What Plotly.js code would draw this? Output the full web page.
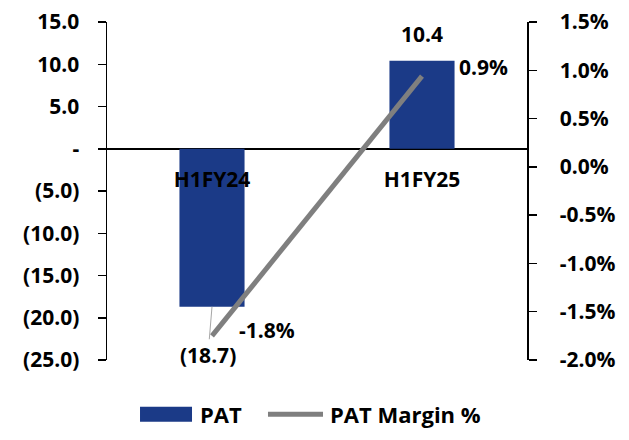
<!DOCTYPE html>
<html>
<head>
<meta charset="utf-8">
<script src="https://cdn.plot.ly/plotly-3.0.1.min.js"></script>
<style>html,body{margin:0;padding:0;background:#fff;}#chart{width:629px;height:440px;}</style>
</head>
<body>
<div id="chart"></div>
<script>
const categories = ["H1FY24", "H1FY25"];
const patValues = [-18.7, 10.4];
const patLabels = ["(18.7)", "10.4"];
const marginValues = [-0.0175, 0.0094];
const marginLabels = ["-1.8%", "0.9%"];
const leftTickVals = [-25, -20, -15, -10, -5, 0, 5, 10, 15];
const leftTickText = ["(25.0)", "(20.0)", "(15.0)", "(10.0)", "(5.0)", "-", "5.0", "10.0", "15.0"];
const rightTickVals = [-0.02, -0.015, -0.01, -0.005, 0, 0.005, 0.01, 0.015];
const rightTickText = ["-2.0%", "-1.5%", "-1.0%", "-0.5%", "0.0%", "0.5%", "1.0%", "1.5%"];
const seriesNames = ["PAT", "PAT Margin %"];

const FONT = "'Open Sans', Lato, sans-serif";
const BLUE = "#1b3a87";
const GREY = "#7f7f7f";
const W = "bold";
const SZ = 21;

const traces = [
  {type: "bar", x: categories, y: patValues, name: seriesNames[0],
   marker: {color: BLUE}, width: 0.31, showlegend: false, hoverinfo: "skip"},
  {type: "scatter", mode: "lines", x: categories, y: marginValues, yaxis: "y2",
   name: seriesNames[1], line: {color: GREY, width: 5}, showlegend: false, hoverinfo: "skip"}
];

const lblFont = {family: FONT, size: SZ, color: "#000", weight: W};
const legFont = {family: FONT, size: 22, color: "#000", weight: W};
const ann = [];
ann.push({x: categories[1], y: patValues[1], xref: "x", yref: "y", text: patLabels[1],
  showarrow: false, yshift: 27, font: lblFont});
ann.push({x: categories[0], y: patValues[0], xref: "x", yref: "y", text: patLabels[0],
  showarrow: true, arrowhead: 0, arrowwidth: 1, arrowcolor: "#a6a6a6", ax: -4, ay: 48,
  font: lblFont});
ann.push({x: categories[0], y: marginValues[0], xref: "x", yref: "y2", text: marginLabels[0],
  showarrow: false, xshift: 55, yshift: 6, font: lblFont});
ann.push({x: categories[1], y: marginValues[1], xref: "x", yref: "y2", text: marginLabels[1],
  showarrow: false, xshift: 61, yshift: 9, font: lblFont});
ann.push({x: 0.2167, y: -0.1607, xref: "paper", yref: "paper", xanchor: "left", yanchor: "middle",
  text: seriesNames[0], showarrow: false, font: legFont});
ann.push({x: 0.526, y: -0.1607, xref: "paper", yref: "paper", xanchor: "left", yanchor: "middle",
  text: seriesNames[1], showarrow: false, font: legFont});

const shapes = [
  {type: "rect", xref: "paper", yref: "paper", x0: 0.0786, x1: 0.2024, y0: -0.1825, y1: -0.1382,
   fillcolor: BLUE, line: {width: 0}},
  {type: "line", xref: "paper", yref: "paper", x0: 0.3833, x1: 0.5143, y0: -0.1607, y1: -0.1607,
   line: {color: GREY, width: 5}}
];

const tickFont = {family: FONT, size: SZ, color: "#000", weight: W};

const layout = {
  width: 629, height: 440,
  margin: {l: 107, r: 102, t: 22, b: 80, pad: 0},
  paper_bgcolor: "#fff", plot_bgcolor: "#fff",
  showlegend: false,
  bargap: 0.69,
  xaxis: {type: "category", anchor: "free", position: 0.625, showline: false, ticks: "",
    showgrid: false, zeroline: false, tickfont: tickFont, ticklabelstandoff: 16, fixedrange: true},
  yaxis: {range: [-25, 15], tickvals: leftTickVals, ticktext: leftTickText, showgrid: false,
    zeroline: true, zerolinecolor: "#000", zerolinewidth: 2,
    showline: true, linecolor: "#000", linewidth: 1.5, ticks: "outside", ticklen: 8, tickwidth: 1.5,
    tickcolor: "#000", tickfont: tickFont, ticklabelstandoff: 14},
  yaxis2: {range: [-0.02, 0.015], tickvals: rightTickVals, ticktext: rightTickText, overlaying: "y",
    side: "right", showgrid: false, zeroline: false,
    showline: true, linecolor: "#000", linewidth: 1.5, ticks: "outside", ticklen: 8, tickwidth: 1.5,
    tickcolor: "#000", tickfont: tickFont, ticklabelstandoff: 19},
  annotations: ann,
  shapes: shapes
};

Plotly.newPlot("chart", traces, layout, {staticPlot: true, displayModeBar: false});
</script>
</body>
</html>
